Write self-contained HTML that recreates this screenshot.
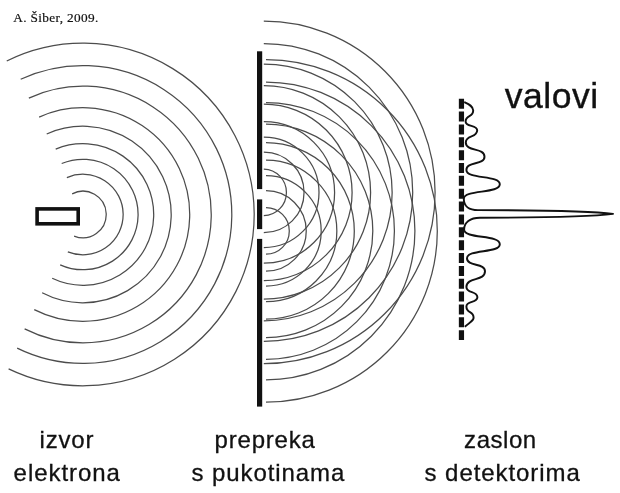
<!DOCTYPE html>
<html><head><meta charset="utf-8"><title>valovi</title>
<style>
html,body{margin:0;padding:0;background:#fff;}
body{width:620px;height:493px;overflow:hidden;position:relative;font-family:"Liberation Sans",sans-serif;color:#111;}
svg{position:absolute;left:0;top:0;}
.w{fill:none;stroke:#4c4c4c;stroke-width:1.25;}
.t{position:absolute;white-space:nowrap;line-height:1;}
#txt{position:absolute;left:0;top:0;width:620px;height:493px;will-change:transform;}
.s{font-family:"Liberation Serif",serif;font-size:13.3px;letter-spacing:0.33px;-webkit-text-stroke:0.2px #111;}
.b{font-size:24px;-webkit-text-stroke:0.3px #111;}
.v{font-size:35.6px;letter-spacing:0.5px;-webkit-text-stroke:0.35px #111;}
</style></head><body>
<svg width="620" height="493" viewBox="0 0 620 493">
<path d="M72.14,193.83A23.3,23.3 0 1 1 74.10,236.07M66.85,177.59A40.25,40.25 0 1 1 67.82,251.82M61.69,163.54A55.2,55.2 0 1 1 60.18,264.81M55.69,149.14A70.8,70.8 0 1 1 52.20,278.30M46.70,133.96A88.3,88.3 0 1 1 42.13,292.82M39.12,117.09A106.8,106.8 0 1 1 34.25,309.57M28.86,98.08A128.35,128.35 0 1 1 24.63,328.86M20.68,79.22A148.9,148.9 0 1 1 17.16,348.10M6.73,61.06A171.3,171.3 0 1 1 8.61,368.85" class="w"/>
<path d="M263.80,169.11A23.3,23.3 0 0 1 263.80,215.69M263.80,152.15A40.25,40.25 0 0 1 263.80,232.65M263.80,137.20A55.2,55.2 0 0 1 263.80,247.60M263.80,121.60A70.8,70.8 0 0 1 263.80,263.20M263.80,104.10A88.3,88.3 0 0 1 263.80,280.70M263.80,85.60A106.8,106.8 0 0 1 263.80,299.20M263.80,64.05A128.35,128.35 0 0 1 263.80,320.75M263.80,43.50A148.9,148.9 0 0 1 263.80,341.30M263.80,21.10A171.3,171.3 0 0 1 263.80,363.70" class="w"/>
<path d="M266.00,207.60A23.3,23.3 0 1 1 266.00,254.20M266.00,190.65A40.25,40.25 0 1 1 266.00,271.15M266.00,175.70A55.2,55.2 0 1 1 266.00,286.10M266.00,160.10A70.8,70.8 0 1 1 266.00,301.70M266.00,142.60A88.3,88.3 0 1 1 266.00,319.20M266.00,124.10A106.8,106.8 0 1 1 266.00,337.70M266.00,102.55A128.35,128.35 0 1 1 266.00,359.25M266.00,82.00A148.9,148.9 0 1 1 266.00,379.80M266.00,59.60A171.3,171.3 0 1 1 266.00,402.20" class="w"/>
<rect x="257" y="51.3" width="5.2" height="137.8" fill="#111"/>
<rect x="257" y="199.4" width="5.2" height="29.7" fill="#111"/>
<rect x="257" y="238.9" width="5.2" height="167.7" fill="#111"/>
<rect x="37.1" y="208.9" width="41.1" height="14.9" fill="#fff" stroke="#111" stroke-width="3.6"/>
<line x1="461.45" y1="98.7" x2="461.45" y2="340.1" stroke="#111" stroke-width="5.2" stroke-dasharray="10 2.86"/>
<path d="M464.3,102C468.5,104 473.2,106 473.2,110.6C473.2,117.79 465.6,114.31 465.6,121.5C465.6,127.31 477.2,124.49 477.2,130.3C477.2,138.35 465.8,134.45 465.8,142.5C465.8,151.87 484.5,147.33 484.5,156.7C484.5,165.41 466.4,161.19 466.4,169.9C466.4,179.40 499.8,174.80 499.8,184.3C499.8,193.94 463.8,189.26 463.8,198.9C463.8,206 469,210.1 478,210.1 C560,210.1 600,212 613,213.9 C600,215.6 560,217.7 480,217.7 C470,217.7 464.1,222.5 464.1,229.4C464.1,239.17 499.8,234.43 499.8,244.2C499.8,253.44 467,248.96 467,258.2C467,266.85 485,262.65 485,271.3C485,281.60 466.4,276.60 466.4,286.9C466.4,293.76 477.4,290.44 477.4,297.3C477.4,303.37 466.4,300.43 466.4,306.5C466.4,314.02 473.6,310.38 473.6,317.9C473.6,320 471,322 464.8,326.7" fill="none" stroke="#111" stroke-width="1.95" stroke-linejoin="round"/>
</svg>
<div id="txt">
<span class="t s" id="t0" style="left:13.3px;top:11px;">A. Šiber, 2009.</span>
<span class="t b" id="t1" style="left:39.6px;top:427.8px;letter-spacing:0.8px;">izvor</span>
<span class="t b" id="t2" style="left:13.6px;top:461.3px;letter-spacing:0.94px;">elektrona</span>
<span class="t b" id="t3" style="left:214.6px;top:427.8px;letter-spacing:0.8px;">prepreka</span>
<span class="t b" id="t4" style="left:191.6px;top:461.3px;letter-spacing:0.9px;">s pukotinama</span>
<span class="t b" id="t5" style="left:464.1px;top:427.8px;letter-spacing:0.54px;">zaslon</span>
<span class="t b" id="t6" style="left:424.6px;top:461.3px;letter-spacing:0.93px;">s detektorima</span>
<span class="t v" id="t7" style="left:504.7px;top:78.6px;">valovi</span>
</div>
</body></html>
